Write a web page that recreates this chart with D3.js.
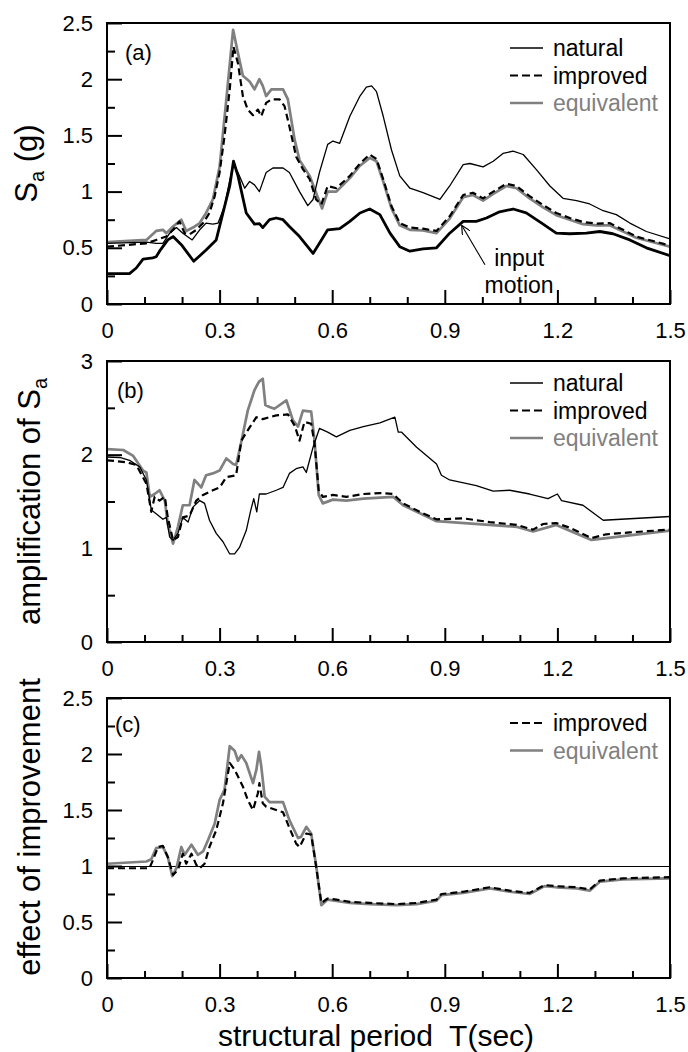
<!DOCTYPE html>
<html>
<head>
<meta charset="utf-8">
<script src="https://cdnjs.cloudflare.com/ajax/libs/d3/7.8.5/d3.min.js"></script>
<style>
  body { margin: 0; background: #fff; }
  text { font-family: "Liberation Sans", Arial, sans-serif; }
</style>
</head>
<body>
<div id="chart"></div>
<script>
// ---- data: [period T (sec), value] ----
const naturalA = [[0,0.54],[0.105,0.55],[0.131,0.54],[0.149,0.54],[0.167,0.63],[0.185,0.68],[0.202,0.63],[0.227,0.57],[0.247,0.66],[0.264,0.72],[0.282,0.71],[0.296,0.72],[0.313,0.87],[0.327,1.10],[0.337,1.24],[0.349,1.17],[0.367,1.03],[0.380,1.09],[0.393,1.06],[0.406,1.00],[0.424,1.17],[0.442,1.21],[0.469,1.21],[0.486,1.17],[0.513,1.00],[0.535,0.875],[0.549,0.93],[0.566,1.17],[0.588,1.42],[0.602,1.45],[0.620,1.43],[0.647,1.67],[0.674,1.85],[0.691,1.93],[0.705,1.94],[0.718,1.89],[0.736,1.67],[0.758,1.37],[0.780,1.14],[0.807,1.03],[0.842,0.99],[0.887,0.93],[0.913,1.05],[0.949,1.24],[0.967,1.25],[1.002,1.22],[1.029,1.27],[1.055,1.34],[1.082,1.36],[1.109,1.33],[1.144,1.195],[1.180,1.05],[1.215,0.94],[1.251,0.92],[1.286,0.89],[1.322,0.83],[1.357,0.795],[1.393,0.72],[1.437,0.645],[1.5,0.58]];
const inputA = [[0,0.27],[0.06,0.27],[0.078,0.32],[0.096,0.40],[0.122,0.41],[0.131,0.42],[0.140,0.47],[0.162,0.57],[0.176,0.60],[0.200,0.52],[0.231,0.38],[0.264,0.48],[0.291,0.57],[0.309,0.81],[0.327,1.05],[0.337,1.27],[0.349,1.14],[0.371,0.81],[0.393,0.71],[0.406,0.715],[0.415,0.68],[0.433,0.75],[0.451,0.765],[0.469,0.75],[0.486,0.69],[0.513,0.60],[0.549,0.45],[0.566,0.54],[0.588,0.66],[0.620,0.67],[0.647,0.735],[0.674,0.81],[0.700,0.845],[0.727,0.795],[0.754,0.63],[0.780,0.51],[0.807,0.47],[0.842,0.49],[0.878,0.50],[0.913,0.63],[0.949,0.735],[0.984,0.735],[1.011,0.765],[1.046,0.82],[1.082,0.845],[1.117,0.81],[1.162,0.71],[1.197,0.63],[1.233,0.625],[1.277,0.63],[1.313,0.645],[1.348,0.625],[1.393,0.57],[1.437,0.50],[1.5,0.43]];
const improvedA = [[0,0.51],[0.105,0.54],[0.131,0.57],[0.158,0.60],[0.176,0.66],[0.193,0.735],[0.207,0.63],[0.220,0.62],[0.238,0.66],[0.256,0.72],[0.273,0.81],[0.287,0.96],[0.300,1.17],[0.313,1.49],[0.327,1.91],[0.337,2.29],[0.349,2.14],[0.362,1.85],[0.375,1.73],[0.389,1.68],[0.402,1.73],[0.411,1.67],[0.424,1.79],[0.438,1.82],[0.460,1.82],[0.473,1.76],[0.486,1.58],[0.504,1.31],[0.522,1.20],[0.540,1.11],[0.557,0.93],[0.571,0.885],[0.588,1.05],[0.611,1.03],[0.647,1.14],[0.674,1.25],[0.700,1.33],[0.718,1.29],[0.736,1.11],[0.758,0.87],[0.780,0.72],[0.807,0.68],[0.842,0.67],[0.878,0.65],[0.913,0.78],[0.949,0.97],[0.975,0.99],[1.002,0.94],[1.029,1.00],[1.064,1.07],[1.091,1.05],[1.126,0.96],[1.162,0.88],[1.197,0.81],[1.233,0.765],[1.268,0.73],[1.304,0.715],[1.339,0.72],[1.375,0.66],[1.410,0.60],[1.455,0.56],[1.5,0.52]];
const equivalentA = [[0,0.55],[0.105,0.57],[0.131,0.65],[0.149,0.66],[0.158,0.63],[0.176,0.69],[0.198,0.75],[0.211,0.65],[0.229,0.68],[0.247,0.72],[0.264,0.81],[0.282,0.93],[0.300,1.22],[0.318,1.82],[0.336,2.44],[0.349,2.23],[0.362,2.03],[0.380,1.98],[0.393,1.91],[0.406,2.00],[0.415,1.94],[0.424,1.85],[0.438,1.91],[0.469,1.91],[0.482,1.82],[0.500,1.46],[0.513,1.28],[0.540,1.14],[0.557,0.99],[0.573,0.85],[0.588,1.00],[0.611,1.00],[0.647,1.12],[0.674,1.23],[0.700,1.30],[0.718,1.27],[0.736,1.09],[0.758,0.85],[0.780,0.70],[0.807,0.66],[0.842,0.655],[0.878,0.63],[0.913,0.76],[0.949,0.95],[0.975,0.97],[1.002,0.92],[1.029,0.98],[1.064,1.05],[1.091,1.03],[1.126,0.94],[1.162,0.86],[1.197,0.79],[1.233,0.75],[1.268,0.71],[1.304,0.70],[1.339,0.70],[1.375,0.645],[1.410,0.59],[1.455,0.55],[1.5,0.51]];

const naturalB = [[0,1.975],[0.034,1.97],[0.06,1.94],[0.087,1.87],[0.105,1.73],[0.118,1.41],[0.131,1.37],[0.149,1.31],[0.158,1.33],[0.167,1.12],[0.176,1.085],[0.189,1.16],[0.202,1.33],[0.216,1.28],[0.229,1.44],[0.247,1.51],[0.260,1.48],[0.273,1.30],[0.291,1.16],[0.309,1.07],[0.327,0.94],[0.340,0.94],[0.353,1.01],[0.371,1.19],[0.382,1.39],[0.391,1.53],[0.399,1.39],[0.406,1.58],[0.424,1.58],[0.451,1.62],[0.469,1.65],[0.486,1.80],[0.504,1.85],[0.522,1.87],[0.531,1.81],[0.549,2.08],[0.566,2.28],[0.588,2.24],[0.611,2.19],[0.647,2.26],[0.683,2.30],[0.727,2.34],[0.767,2.40],[0.776,2.24],[0.785,2.24],[0.825,2.08],[0.878,1.90],[0.891,1.78],[0.913,1.73],[0.984,1.67],[1.029,1.61],[1.073,1.62],[1.126,1.58],[1.175,1.53],[1.200,1.58],[1.211,1.51],[1.268,1.46],[1.322,1.30],[1.5,1.34]];
const improvedB = [[0,1.94],[0.051,1.92],[0.078,1.89],[0.105,1.69],[0.118,1.39],[0.127,1.55],[0.140,1.51],[0.154,1.55],[0.162,1.33],[0.176,1.085],[0.189,1.12],[0.202,1.33],[0.220,1.35],[0.238,1.51],[0.256,1.57],[0.282,1.62],[0.300,1.65],[0.318,1.76],[0.344,1.78],[0.358,2.15],[0.375,2.26],[0.398,2.40],[0.415,2.38],[0.451,2.42],[0.482,2.43],[0.500,2.31],[0.513,2.15],[0.526,2.35],[0.544,2.33],[0.553,2.12],[0.564,1.62],[0.575,1.55],[0.602,1.57],[0.638,1.55],[0.683,1.58],[0.727,1.59],[0.762,1.58],[0.789,1.48],[0.833,1.39],[0.878,1.31],[0.949,1.32],[1.020,1.28],[1.091,1.25],[1.135,1.20],[1.162,1.26],[1.197,1.27],[1.233,1.22],[1.291,1.11],[1.330,1.15],[1.393,1.17],[1.5,1.20]];
const equivalentB = [[0,2.06],[0.043,2.05],[0.069,1.99],[0.096,1.83],[0.105,1.81],[0.114,1.55],[0.127,1.58],[0.140,1.62],[0.154,1.51],[0.162,1.26],[0.176,1.05],[0.189,1.23],[0.202,1.46],[0.220,1.46],[0.233,1.73],[0.251,1.65],[0.264,1.78],[0.282,1.80],[0.300,1.83],[0.318,1.96],[0.336,1.90],[0.344,1.89],[0.358,2.14],[0.375,2.47],[0.393,2.69],[0.405,2.78],[0.415,2.81],[0.422,2.53],[0.433,2.51],[0.446,2.49],[0.478,2.58],[0.495,2.37],[0.509,2.30],[0.522,2.47],[0.544,2.46],[0.553,2.15],[0.564,1.57],[0.575,1.48],[0.602,1.52],[0.638,1.51],[0.683,1.53],[0.762,1.55],[0.789,1.46],[0.878,1.29],[1.091,1.23],[1.135,1.18],[1.197,1.25],[1.291,1.09],[1.5,1.19]];

const improvedC = [[0,0.98],[0.113,0.98],[0.122,1.05],[0.136,1.17],[0.149,1.18],[0.162,1.08],[0.176,0.92],[0.189,0.965],[0.202,1.11],[0.211,1.02],[0.225,1.11],[0.238,1.01],[0.247,0.98],[0.260,1.02],[0.273,1.17],[0.291,1.32],[0.309,1.56],[0.327,1.92],[0.340,1.86],[0.362,1.71],[0.375,1.59],[0.389,1.50],[0.402,1.65],[0.406,1.74],[0.415,1.56],[0.424,1.53],[0.469,1.48],[0.486,1.34],[0.504,1.20],[0.513,1.17],[0.531,1.29],[0.544,1.28],[0.557,1.00],[0.571,0.67],[0.588,0.71],[0.611,0.70],[0.647,0.68],[0.700,0.67],[0.771,0.66],[0.825,0.67],[0.878,0.70],[0.891,0.75],[0.949,0.77],[1.020,0.81],[1.073,0.78],[1.126,0.76],[1.166,0.83],[1.197,0.82],[1.251,0.81],[1.286,0.79],[1.313,0.87],[1.375,0.89],[1.5,0.90]];
const equivalentC = [[0,1.02],[0.105,1.04],[0.118,1.06],[0.131,1.16],[0.149,1.17],[0.162,1.08],[0.174,0.91],[0.185,0.98],[0.198,1.17],[0.207,1.10],[0.225,1.19],[0.242,1.10],[0.256,1.13],[0.269,1.23],[0.287,1.38],[0.300,1.59],[0.313,1.68],[0.327,2.07],[0.340,2.03],[0.349,1.94],[0.358,1.99],[0.371,1.92],[0.389,1.74],[0.398,1.86],[0.405,2.02],[0.411,1.89],[0.420,1.62],[0.433,1.57],[0.469,1.57],[0.486,1.41],[0.509,1.25],[0.517,1.26],[0.531,1.35],[0.544,1.29],[0.557,1.01],[0.571,0.65],[0.588,0.70],[0.647,0.67],[0.700,0.66],[0.771,0.65],[0.825,0.66],[0.878,0.69],[0.891,0.74],[0.949,0.76],[1.020,0.80],[1.073,0.77],[1.126,0.75],[1.166,0.82],[1.197,0.81],[1.251,0.80],[1.286,0.78],[1.313,0.86],[1.375,0.88],[1.5,0.89]];

// ticks
const xTicks = [0, 0.3, 0.6, 0.9, 1.2, 1.5];
const xMinor = [0.1, 0.2, 0.4, 0.5, 0.7, 0.8, 1.0, 1.1, 1.3, 1.4];
const yTicksA = [0, 0.5, 1, 1.5, 2, 2.5];
const yMinorA = [0.25, 0.75, 1.25, 1.75, 2.25];
const yTicksB = [0, 1, 2, 3];
const yMinorB = [0.5, 1.5, 2.5];
const yTicksC = [0, 0.5, 1, 1.5, 2, 2.5];
const yMinorC = [0.25, 0.75, 1.25, 1.75, 2.25];

// line looks per series
const styles = {
    natural:    { stroke: "#000", width: 1.3, dash: null, text: "#000" },
    improved:   { stroke: "#000", width: 2.2, dash: "7,4", text: "#000" },
    equivalent: { stroke: "#808080", width: 2.7, dash: null, text: "#808080" },
    input:      { stroke: "#000", width: 2.8, dash: null, text: "#000" }
};

const width = 688, height = 1052;
const plotLeft = 107, plotRight = 670;

let svg = d3.select("#chart")
    .append("svg")
    .attr("width", width)
    .attr("height", height);

let xScale = d3.scaleLinear().domain([0, 1.5]).range([plotLeft, plotRight]);

const panels = [
    { id: "a", top: 23, bottom: 304, yMax: 2.5, yTicks: yTicksA, yMinor: yMinorA,
      series: [["equivalent", equivalentA], ["improved", improvedA], ["natural", naturalA], ["input", inputA]],
      legend: ["natural", "improved", "equivalent"], legendTop: 48 },
    { id: "b", top: 361, bottom: 642, yMax: 3, yTicks: yTicksB, yMinor: yMinorB,
      series: [["equivalent", equivalentB], ["improved", improvedB], ["natural", naturalB]],
      legend: ["natural", "improved", "equivalent"], legendTop: 383 },
    { id: "c", top: 698, bottom: 978, yMax: 2.5, yTicks: yTicksC, yMinor: yMinorC,
      series: [["equivalent", equivalentC], ["improved", improvedC]],
      legend: ["improved", "equivalent"], legendTop: 723 }
];

panels.forEach(p => {
    let yScale = d3.scaleLinear().domain([0, p.yMax]).range([p.bottom, p.top]);
    p.y = yScale;
    let g = svg.append("g");

    // clip
    svg.append("clipPath").attr("id", "clip-" + p.id)
        .append("rect")
        .attr("x", plotLeft).attr("y", p.top)
        .attr("width", plotRight - plotLeft).attr("height", p.bottom - p.top);

    // reference line at 1 in panel c
    if (p.id === "c") {
        g.append("line")
            .attr("x1", plotLeft).attr("x2", plotRight)
            .attr("y1", yScale(1) + 0.5).attr("y2", yScale(1) + 0.5)
            .attr("stroke", "#000").attr("stroke-width", 1)
            .attr("shape-rendering", "crispEdges");
    }

    let line = d3.line().x(d => xScale(d[0])).y(d => yScale(d[1]));
    let curves = g.append("g").attr("clip-path", `url(#clip-${p.id})`);
    p.series.forEach(([name, data]) => {
        let s = styles[name];
        curves.append("path")
            .datum(data)
            .attr("d", line)
            .attr("fill", "none")
            .attr("stroke", s.stroke)
            .attr("stroke-width", s.width)
            .attr("stroke-dasharray", s.dash)
            .attr("stroke-linejoin", "round");
    });

    // axes: ticks point inward
    let fmt = d => String(d);
    g.append("g")
        .attr("transform", `translate(0, ${p.bottom})`)
        .call(d3.axisBottom(xScale).tickValues(xTicks).tickFormat(fmt)
            .tickSizeInner(-14).tickSizeOuter(0).tickPadding(18));
    g.append("g")
        .attr("transform", `translate(0, ${p.bottom})`)
        .call(d3.axisBottom(xScale).tickValues(xMinor).tickFormat("")
            .tickSizeInner(-7).tickSizeOuter(0));
    g.append("g")
        .attr("transform", `translate(${plotLeft}, 0)`)
        .call(d3.axisLeft(yScale).tickValues(p.yTicks).tickFormat(fmt)
            .tickSizeInner(-15).tickSizeOuter(0).tickPadding(14));
    g.append("g")
        .attr("transform", `translate(${plotLeft}, 0)`)
        .call(d3.axisLeft(yScale).tickValues(p.yMinor).tickFormat("")
            .tickSizeInner(-8).tickSizeOuter(0));

    g.selectAll(".domain").remove();
    g.selectAll(".tick line").attr("stroke", "#000").attr("stroke-width", 2);
    g.selectAll(".tick text")
        .attr("font-family", "'Liberation Sans', Arial, sans-serif")
        .attr("font-size", 22)
        .attr("fill", "#000");

    // frame
    g.append("rect")
        .attr("x", plotLeft).attr("y", p.top)
        .attr("width", plotRight - plotLeft).attr("height", p.bottom - p.top)
        .attr("fill", "none").attr("stroke", "#000").attr("stroke-width", 2);

    // panel label
    g.append("text")
        .attr("x", plotLeft + (p.id === "a" ? 18 : p.id === "b" ? 10 : 8))
        .attr("y", p.top + (p.id === "c" ? 34 : 37))
        .attr("font-size", 22)
        .text(`(${p.id})`);

    // legend
    p.legend.forEach((name, i) => {
        let s = styles[name];
        let ly = p.legendTop + i * 27.5;
        g.append("line")
            .attr("x1", 510).attr("x2", 543)
            .attr("y1", ly).attr("y2", ly)
            .attr("stroke", s.stroke)
            .attr("stroke-width", name === "natural" ? 1.5 : s.width)
            .attr("stroke-dasharray", name === "improved" ? "8,4" : null);
        g.append("text")
            .attr("x", 553).attr("y", ly + 8)
            .attr("font-size", 23)
            .attr("fill", s.text)
            .text(name);
    });
});

// "input motion" note in panel (a)
let pa = panels[0];
let arrowTip = [0.945, 0.70], arrowTail = [1.007, 0.35];
svg.append("defs").append("marker")
    .attr("id", "arrow")
    .attr("viewBox", "0 0 10 10")
    .attr("refX", 10).attr("refY", 5)
    .attr("markerWidth", 9).attr("markerHeight", 9)
    .attr("markerUnits", "userSpaceOnUse")
    .attr("orient", "auto")
    .append("path")
    .attr("d", "M0,0 L10,5 L0,10")
    .attr("fill", "none").attr("stroke", "#000").attr("stroke-width", 1.3);
svg.append("line")
    .attr("x1", xScale(arrowTail[0])).attr("y1", pa.y(arrowTail[1]))
    .attr("x2", xScale(arrowTip[0])).attr("y2", pa.y(arrowTip[1]))
    .attr("stroke", "#000").attr("stroke-width", 1.1)
    .attr("marker-end", "url(#arrow)");
svg.append("text")
    .attr("x", xScale(1.098)).attr("y", pa.y(0.338))
    .attr("text-anchor", "middle").attr("font-size", 23)
    .text("input");
svg.append("text")
    .attr("x", xScale(1.098)).attr("y", pa.y(0.098))
    .attr("text-anchor", "middle").attr("font-size", 23)
    .text("motion");

// axis titles
let titleA = svg.append("text")
    .attr("transform", `translate(37, ${(pa.top + pa.bottom) / 2}) rotate(-90)`)
    .attr("text-anchor", "middle")
    .attr("font-size", 31);
titleA.append("tspan").text("S");
titleA.append("tspan").attr("font-size", 20).attr("dy", 7).text("a");
titleA.append("tspan").attr("dy", -7).text(" (g)");

let pb = panels[1];
let titleB = svg.append("text")
    .attr("transform", `translate(40, ${(pb.top + pb.bottom) / 2}) rotate(-90)`)
    .attr("text-anchor", "middle")
    .attr("font-size", 31);
titleB.append("tspan").text("amplification of S");
titleB.append("tspan").attr("font-size", 20).attr("dy", 7).text("a");

svg.append("text")
    .attr("transform", `translate(40, 827) rotate(-90)`)
    .attr("text-anchor", "middle")
    .attr("font-size", 31)
    .text("effect of improvement");

svg.append("text")
    .attr("x", 376).attr("y", 1046)
    .attr("text-anchor", "middle")
    .attr("font-size", 30)
    .style("white-space", "pre")
    .text("structural period  T(sec)");
</script>
</body>
</html>
